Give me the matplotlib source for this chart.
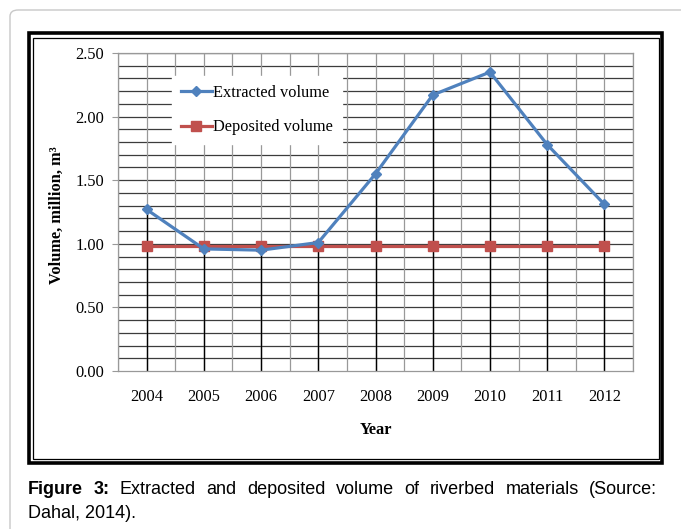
import numpy as np
import matplotlib
matplotlib.use("Agg")
import matplotlib.pyplot as plt
from matplotlib.patches import FancyBboxPatch, Rectangle

years = ["2004", "2005", "2006", "2007", "2008", "2009", "2010", "2011", "2012"]
extracted = [1.27, 0.96, 0.95, 1.01, 1.55, 2.17, 2.35, 1.78, 1.31]
deposited = [0.98, 0.98, 0.98, 0.98, 0.98, 0.98, 0.98, 0.98, 0.98]

W, H = 681, 529
BLUE = "#4F81BD"
RED = "#C0504D"
SERIF = "Liberation Serif"
SANS = "Liberation Sans"
FS = 11.8


def fx(px):
    return px / W


def fy(py):
    return 1 - py / H


fig = plt.figure(figsize=(W / 100, H / 100), dpi=100)

# outer rounded page box
fig.patches.append(FancyBboxPatch((fx(10), fy(540)), fx(700), fy(10) - fy(540),
                                  boxstyle="round,pad=0,rounding_size=0.012",
                                  transform=fig.transFigure, fill=False,
                                  edgecolor="#c8c8c8", linewidth=1.0))
# chart frame: thick outer + thin inner
fig.patches.append(Rectangle((fx(29), fy(463)), fx(633), fy(33) - fy(463),
                             transform=fig.transFigure, fill=False,
                             edgecolor="black", linewidth=2.6))
fig.patches.append(Rectangle((fx(32.5), fy(459)), fx(626), fy(38) - fy(459),
                             transform=fig.transFigure, fill=False,
                             edgecolor="black", linewidth=0.9))

ax = fig.add_axes([fx(118), fy(371), fx(633 - 118), fy(53) - fy(371)])
x = np.arange(len(years))

# grid
for yv in np.arange(0.1, 2.51, 0.1):
    ax.axhline(yv, color="#3c3c3c", linewidth=0.9, zorder=1)
for xv in np.arange(-0.5, len(years), 0.5):
    ax.axvline(xv, color="#999999", linewidth=0.9, zorder=1)

# drop lines
ax.vlines(x, 0, np.maximum(extracted, deposited), color="black", linewidth=1.0, zorder=2)

ax.plot(x, extracted, color=BLUE, linewidth=2.3, marker="D", markersize=5.5,
        label="Extracted volume", zorder=4)
ax.plot(x, deposited, color=RED, linewidth=2.3, marker="s", markersize=7.5,
        label="Deposited volume", zorder=3)

ax.set_xlim(-0.5, len(years) - 0.5)
ax.set_ylim(0, 2.5)
ax.set_yticks(np.arange(0, 2.51, 0.5))
ax.set_yticklabels(["%.2f" % v for v in np.arange(0, 2.51, 0.5)], fontfamily=SERIF, fontsize=FS)
ax.set_xticks(x)
ax.set_xticklabels(years, fontfamily=SERIF, fontsize=FS)
ax.tick_params(axis="x", length=0, pad=13)
ax.tick_params(axis="y", length=4, pad=6, color="#999999")
for s in ax.spines.values():
    s.set_color("#999999")
    s.set_linewidth(0.9)

ax.set_xlabel("Year", fontfamily=SERIF, fontsize=FS, fontweight="bold", labelpad=12)
ax.set_ylabel("Volume, million, m³", fontfamily=SERIF, fontsize=FS, fontweight="bold")
ax.yaxis.set_label_coords(-0.104, 0.49)

leg = ax.legend(loc="upper left", bbox_to_anchor=(0.088, 0.955), frameon=True,
                fancybox=False, framealpha=1, edgecolor="white", handlelength=1.9,
                labelspacing=1.15, borderpad=0.55, handletextpad=0.1,
                prop={"family": SERIF, "size": FS})
leg.set_zorder(5)

# caption, justified first line
fig.canvas.draw()
r = fig.canvas.get_renderer()
words = [("Figure", "bold"), ("3:", "bold"), ("Extracted", "normal"), ("and", "normal"),
         ("deposited", "normal"), ("volume", "normal"), ("of", "normal"),
         ("riverbed", "normal"), ("materials", "normal"), ("(Source:", "normal")]
texts = [fig.text(0, fy(490), w, fontfamily=SANS, fontsize=13, fontweight=wt, va="center")
         for w, wt in words]
widths = [t.get_window_extent(r).width for t in texts]
left, right = 28, 657
gap = (right - left - sum(widths)) / (len(words) - 1)
pos = left
for t, wd in zip(texts, widths):
    t.set_x(fx(pos))
    pos += wd + gap
fig.text(fx(28), fy(513), "Dahal, 2014).", fontfamily=SANS, fontsize=13, va="center")

fig.savefig("out.png", dpi=100)
